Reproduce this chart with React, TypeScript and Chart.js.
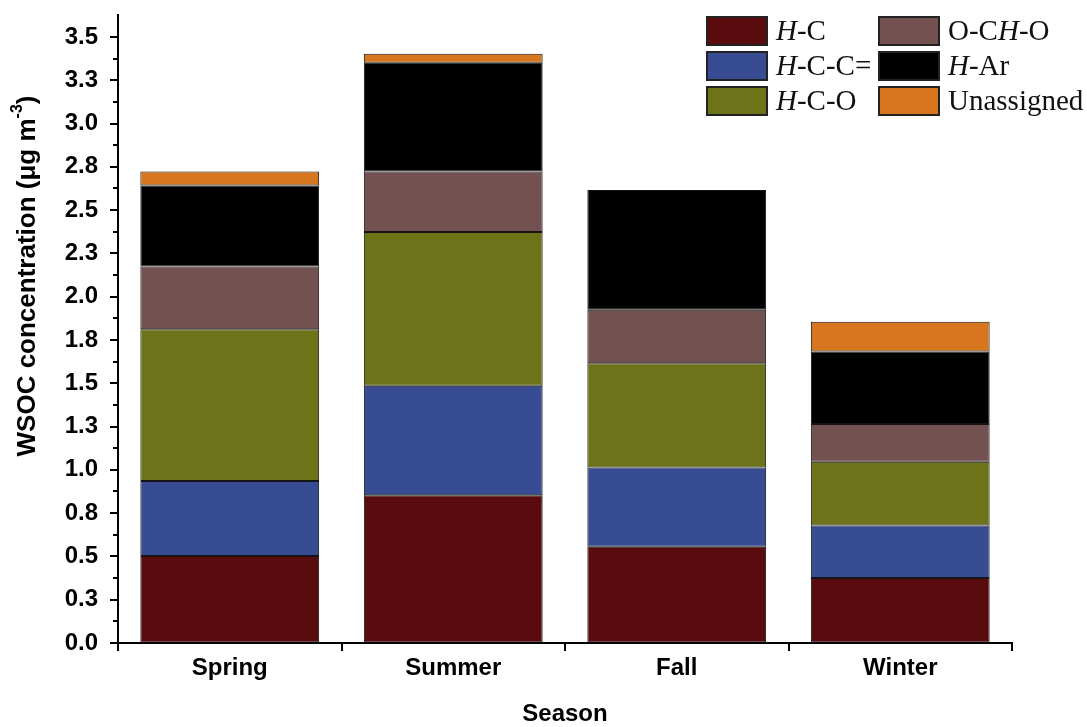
import React, { useEffect, useRef } from 'react';
import { Chart, registerables } from 'chart.js';

Chart.register(...registerables);

const seasons = ['Spring', 'Summer', 'Fall', 'Winter'];
const seriesNames = ['H-C', 'H-C-C=', 'H-C-O', 'O-CH-O', 'H-Ar', 'Unassigned'];
const hC = [0.503, 0.853, 0.556, 0.376];
const hCC = [0.433, 0.633, 0.457, 0.302];
const hCO = [0.876, 0.888, 0.603, 0.369];
const oCHO = [0.362, 0.349, 0.308, 0.218];
const hAr = [0.468, 0.628, 0.693, 0.418];
const unassigned = [0.081, 0.052, 0, 0.173];
const seriesColors = ['#5a0b0e', '#374c92', '#6c7318', '#735150', '#000000', '#d87620'];
const yTickValues = [0, 0.25, 0.5, 0.75, 1, 1.25, 1.5, 1.75, 2, 2.25, 2.5, 2.75, 3, 3.25, 3.5];
const yTickLabels = ['0.0', '0.3', '0.5', '0.8', '1.0', '1.3', '1.5', '1.8', '2.0', '2.3', '2.5', '2.8', '3.0', '3.3', '3.5'];
const yTitle = 'WSOC concentration (\u03bcg m';
const yTitleSup = '-3';
const xTitle = 'Season';

const SANS = '"Liberation Sans", Arial, sans-serif';
const SERIF = '"Liberation Serif", "Times New Roman", serif';

const customPlugin = {
  id: 'customDecor',
  afterDraw(chart: any) {
    const ctx = chart.ctx as CanvasRenderingContext2D;
    const y = chart.scales.y;
    const left = y.right;
    ctx.save();
    // y-axis tick marks (major + minor)
    ctx.strokeStyle = '#000';
    ctx.lineWidth = 2;
    yTickValues.forEach((v, i) => {
      const py = Math.round(y.getPixelForValue(v));
      ctx.beginPath();
      ctx.moveTo(left - 8, py);
      ctx.lineTo(left, py);
      ctx.stroke();
      if (i < yTickValues.length - 1) {
        const pm = Math.round(y.getPixelForValue((v + yTickValues[i + 1]) / 2));
        ctx.beginPath();
        ctx.moveTo(left - 5, pm);
        ctx.lineTo(left, pm);
        ctx.stroke();
      }
    });

    // y title with superscript
    ctx.translate(28, 276);
    ctx.rotate(-Math.PI / 2);
    ctx.fillStyle = '#000';
    ctx.textBaseline = 'middle';
    ctx.textAlign = 'left';
    const mainFont = 'bold 26px ' + SANS;
    const supFont = 'bold 16px ' + SANS;
    ctx.font = mainFont;
    const w1 = ctx.measureText(yTitle).width;
    const w3 = ctx.measureText(')').width;
    ctx.font = supFont;
    const w2 = ctx.measureText(yTitleSup).width;
    let x0 = -(w1 + w2 + w3) / 2;
    ctx.font = mainFont;
    ctx.fillText(yTitle, x0, 0);
    x0 += w1;
    ctx.font = supFont;
    ctx.fillText(yTitleSup, x0, -10);
    x0 += w2;
    ctx.font = mainFont;
    ctx.fillText(')', x0, 0);
    ctx.restore();

    // legend
    ctx.save();
    const colX = [706, 878];
    const rowY = [16, 51, 86];
    const boxW = 62;
    const boxH = 30;
    seriesNames.forEach((name, i) => {
      const col = Math.floor(i / 3);
      const row = i % 3;
      const bx = colX[col];
      const by = rowY[row];
      ctx.fillStyle = seriesColors[i];
      ctx.fillRect(bx, by, boxW, boxH);
      ctx.strokeStyle = '#222';
      ctx.lineWidth = 2;
      ctx.strokeRect(bx + 1, by + 1, boxW - 2, boxH - 2);
      let tx = bx + boxW + 8;
      const ty = by + boxH / 2 + 1;
      ctx.fillStyle = '#111';
      ctx.textBaseline = 'middle';
      ctx.textAlign = 'left';
      for (const ch of name) {
        ctx.font = (ch === 'H' ? 'italic ' : '') + '29px ' + SERIF;
        ctx.fillText(ch, tx, ty);
        tx += ctx.measureText(ch).width;
      }
    });
    ctx.restore();
  },
};

export default function App() {
  const ref = useRef<HTMLCanvasElement | null>(null);
  useEffect(() => {
    if (!ref.current) return;
    const values = [hC, hCC, hCO, oCHO, hAr, unassigned];
    const chart = new Chart(ref.current, {
      type: 'bar',
      data: {
        labels: seasons,
        datasets: seriesNames.map((n, i) => ({
          label: n,
          data: values[i],
          backgroundColor: seriesColors[i],
          borderColor: '#151515',
          borderWidth: 1,
          borderSkipped: false,
          barPercentage: 0.8,
          categoryPercentage: 1,
        })),
      },
      options: {
        responsive: false,
        animation: false,
        layout: { padding: { left: 0, top: 15, right: 75, bottom: 0 } },
        plugins: { legend: { display: false }, tooltip: { enabled: false }, title: { display: false } },
        scales: {
          x: {
            stacked: true,
            afterFit: (s: any) => { s.height = 84; s.paddingLeft = 0; s.paddingRight = 0; },
            grid: { display: true, drawOnChartArea: false, drawTicks: true, tickLength: 8, color: '#000', lineWidth: 2, offset: true },
            border: { display: true, color: '#000', width: 2 },
            ticks: { color: '#000', font: { family: SANS, size: 24, weight: 'bold' }, padding: 3 },
            title: { display: true, text: xTitle, color: '#000', font: { family: SANS, size: 24, weight: 'bold' }, padding: { top: 0, bottom: -2 } },
          },
          y: {
            stacked: true,
            min: 0,
            max: 3.627,
            afterFit: (s: any) => { s.width = 118; s.paddingTop = 0; s.paddingBottom = 0; },
            afterBuildTicks: (s: any) => { s.ticks = yTickValues.map((v) => ({ value: v })); },
            grid: { display: true, drawOnChartArea: false, drawTicks: true, tickLength: 8, color: 'rgba(0,0,0,0)' },
            border: { display: true, color: '#000', width: 2 },
            ticks: {
              color: '#000',
              font: { family: SANS, size: 24, weight: 'bold' },
              padding: 12,
              autoSkip: false,
              callback: (_v: any, i: number) => yTickLabels[i],
            },
          },
        },
      },
      plugins: [customPlugin],
    });
    return () => chart.destroy();
  }, []);
  return (
    <div style={{ position: 'fixed', left: 0, top: 0, width: 1087, height: 727, background: '#fff' }}>
      <canvas ref={ref} width={1087} height={727} />
    </div>
  );
}
